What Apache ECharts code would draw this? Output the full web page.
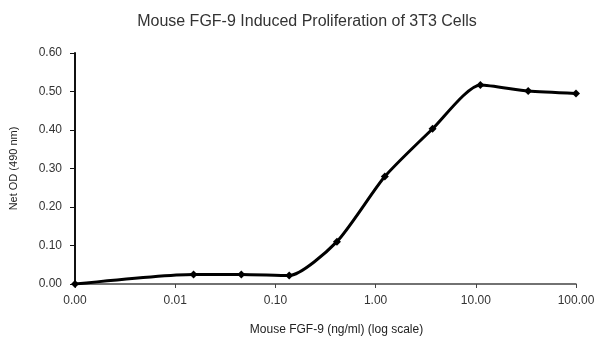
<!DOCTYPE html>
<html>
<head>
<meta charset="utf-8">
<script src="https://cdn.jsdelivr.net/npm/echarts@6/dist/echarts.min.js"></script>
<style>
html,body{margin:0;padding:0;background:#fff;}
#chart{width:603px;height:348px;}
</style>
</head>
<body>
<div id="chart"></div>
<script>
// Dose (ng/ml), 3-fold serial dilutions; 0 is drawn at the axis origin labelled "0.00"
var doses = [0, 0.01524, 0.04572, 0.1372, 0.4115, 1.235, 3.704, 11.11, 33.33, 100];
var netOD = [0.000, 0.025, 0.025, 0.022, 0.110, 0.279, 0.403, 0.517, 0.501, 0.495];
var xTickValues = [0.001, 0.01, 0.1, 1, 10, 100];
var xTickLabels = ['0.00', '0.01', '0.10', '1.00', '10.00', '100.00'];
var yTickLabels = ['0.00', '0.10', '0.20', '0.30', '0.40', '0.50', '0.60'];

var X_MIN = xTickValues[0], X_MAX = xTickValues[xTickValues.length - 1];
var seriesData = doses.map(function (d, i) { return [d === 0 ? X_MIN : d, netOD[i]]; });

var FONT = 'Liberation Sans, Arial, sans-serif';
var chart = echarts.init(document.getElementById('chart'), null, {renderer: 'canvas'});
chart.setOption({
  animation: false,
  backgroundColor: '#ffffff',
  title: {
    text: 'Mouse FGF-9 Induced Proliferation of 3T3 Cells',
    left: 302, top: 9, textAlign: 'center',
    textStyle: {fontFamily: FONT, fontSize: 16, fontWeight: 'normal', color: '#333'}
  },
  grid: {left: 73, right: 27, top: 53, bottom: 64, containLabel: false},
  xAxis: {
    type: 'log', logBase: 10, min: X_MIN, max: X_MAX, interval: 1,
    name: 'Mouse FGF-9 (ng/ml) (log scale)',
    nameLocation: 'middle', nameGap: 40,
    nameTextStyle: {fontFamily: FONT, fontSize: 12, color: '#222', padding: [0, 0, 0, 22]},
    axisLine: {show: true, onZero: false, lineStyle: {color: '#444', width: 1.5}},
    axisTick: {show: true, inside: false, length: 4, lineStyle: {color: '#444'}},
    minorTick: {show: false},
    splitLine: {show: false},
    axisLabel: {
      fontFamily: FONT, fontSize: 12, color: '#333', margin: 11,
      formatter: function (v) {
        for (var i = 0; i < xTickValues.length; i++) {
          if (Math.abs(Math.log10(v) - Math.log10(xTickValues[i])) < 1e-6) return xTickLabels[i];
        }
        return '';
      }
    }
  },
  yAxis: {
    type: 'value', min: 0, max: 0.6, interval: 0.1,
    name: 'Net OD (490 nm)',
    nameLocation: 'middle', nameGap: 56, nameRotate: 90,
    nameTextStyle: {fontFamily: FONT, fontSize: 11, color: '#222'},
    axisLine: {show: true, lineStyle: {color: '#111', width: 2}},
    axisTick: {show: true, inside: false, length: 5, lineStyle: {color: '#111'}},
    splitLine: {show: false},
    axisLabel: {
      fontFamily: FONT, fontSize: 12, color: '#333', margin: 13,
      formatter: function (v) { return yTickLabels[Math.round(v * 10)]; }
    }
  },
  series: [{
    type: 'line',
    data: seriesData,
    smooth: 0.22,
    symbol: 'diamond',
    symbolSize: 8,
    showSymbol: true,
    itemStyle: {color: '#000'},
    lineStyle: {color: '#000', width: 3}
  }]
});
</script>
</body>
</html>
